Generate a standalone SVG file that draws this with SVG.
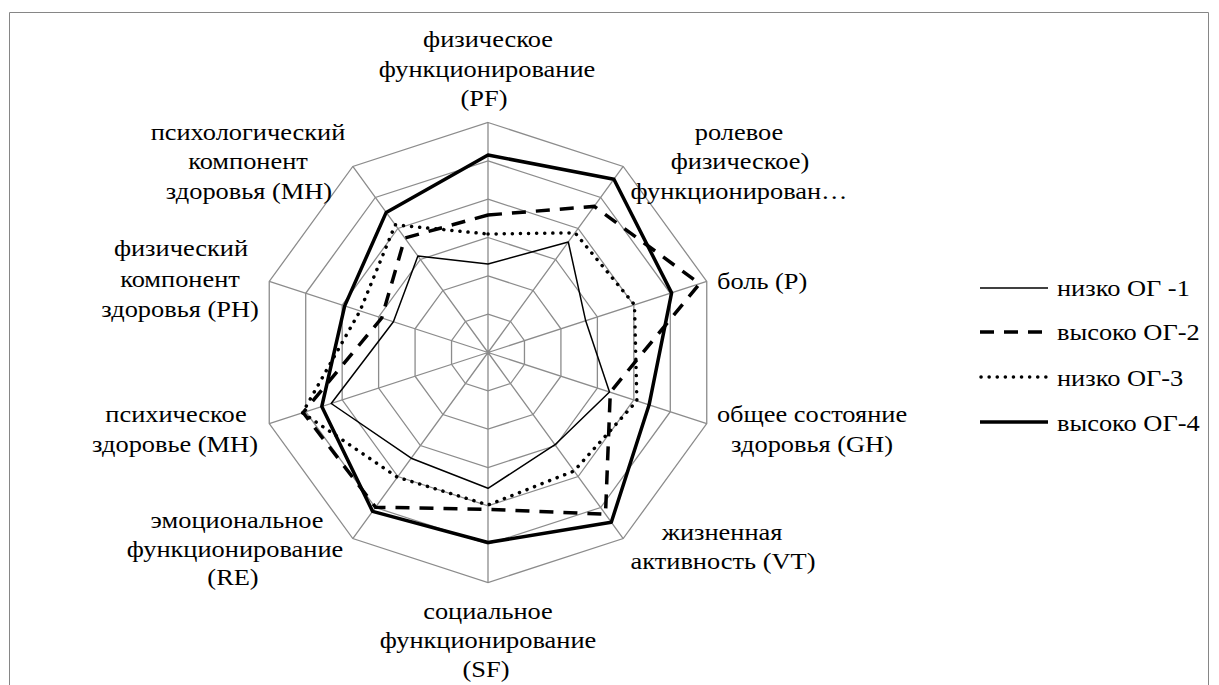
<svg xmlns="http://www.w3.org/2000/svg" width="1219" height="685" viewBox="0 0 1219 685">
<style>
text{font-family:'Liberation Serif','Times New Roman',serif;font-size:24px;fill:#000}
.mid{text-anchor:middle}
.grid{fill:none;stroke:#8c8c8c;stroke-width:1.3}
.s1{fill:none;stroke:#000;stroke-width:1.5;stroke-linejoin:round}
.s2{fill:none;stroke:#000;stroke-width:3.5;stroke-dasharray:14 10}
.s3{fill:none;stroke:#000;stroke-width:3.5;stroke-dasharray:0.1 8;stroke-linecap:round}
.s4{fill:none;stroke:#000;stroke-width:3.5;stroke-linejoin:round}
</style>
<rect width="1219" height="685" fill="#fff"/>
<path d="M9.5 685 V12.5 H1208.5 V685" fill="none" stroke="#868686" stroke-width="1"/>
<g id="grid">
<polygon class="grid" points="488,314.17 510.53,321.49 524.46,340.66 524.46,364.34 510.53,383.51 488,390.83 465.47,383.51 451.54,364.34 451.54,340.66 465.47,321.49"/>
<polygon class="grid" points="488,275.83 533.07,290.48 560.92,328.81 560.92,376.19 533.07,414.52 488,429.17 442.93,414.52 415.08,376.19 415.08,328.81 442.93,290.48"/>
<polygon class="grid" points="488,237.5 555.6,259.46 597.38,316.96 597.38,388.04 555.6,445.54 488,467.5 420.4,445.54 378.62,388.04 378.62,316.96 420.4,259.46"/>
<polygon class="grid" points="488,199.17 578.13,228.45 633.83,305.12 633.83,399.88 578.13,476.55 488,505.83 397.87,476.55 342.17,399.88 342.17,305.12 397.87,228.45"/>
<polygon class="grid" points="488,160.83 600.66,197.44 670.29,293.27 670.29,411.73 600.66,507.56 488,544.17 375.34,507.56 305.71,411.73 305.71,293.27 375.34,197.44"/>
<polygon class="grid" points="488,122.5 623.19,166.43 706.75,281.43 706.75,423.57 623.19,538.57 488,582.5 352.81,538.57 269.25,423.57 269.25,281.43 352.81,166.43"/>
<path class="grid" d="M488 352.5 L488 122.5 M488 352.5 L623.19 166.43 M488 352.5 L706.75 281.43 M488 352.5 L706.75 423.57 M488 352.5 L623.19 538.57 M488 352.5 L488 582.5 M488 352.5 L352.81 538.57 M488 352.5 L269.25 423.57 M488 352.5 L269.25 281.43 M488 352.5 L352.81 166.43"/>
</g>
<g id="series">
<polygon id="s1" class="s1" points="488,264 568.3,242 585.7,320.8 609.5,392 555,444.7 488,488.3 411.2,458.2 331.2,403.5 393.4,321.8 417.9,256.1"/>
<polygon id="s2" class="s2" points="488,215 594.2,206.4 699.6,283.7 610.3,392.2 605.5,514.2 488,509.3 375.6,507.2 303.1,412.6 381.7,318 404.8,238"/>
<polygon id="s3" class="s3" points="488,234 575,232.8 634.5,304.9 636.9,400.9 574.1,471 488,505 397.4,477.2 302.5,412.8 360,310.9 395.2,224.8"/>
<polygon id="s4" class="s4" points="488,155 613.9,179.2 671.6,292.9 649.1,404.8 611.3,522.2 488,542.5 372.6,511.4 321.8,406.5 344.7,305.9 386.2,212.4"/>
</g>
<g id="axis-labels">
<g id="lbl-pf"><text class="mid" transform="translate(488 47) scale(1.1 1)">физическое</text><text class="mid" transform="translate(487 77) scale(1.1 1)">функционирование</text><text class="mid" transform="translate(484 106) scale(1.1 1)">(PF)</text></g>
<g id="lbl-rp"><text class="mid" transform="translate(739 140) scale(1.1 1)">ролевое</text><text class="mid" transform="translate(740 169) scale(1.1 1)">физическое)</text><text class="mid" transform="translate(739 198.5) scale(1.1 1)">функционирован…</text></g>
<g id="lbl-p"><text transform="translate(717 289) scale(1.1 1)">боль (P)</text></g>
<g id="lbl-gh"><text class="mid" transform="translate(812 422) scale(1.1 1)">общее состояние</text><text class="mid" transform="translate(812 452) scale(1.1 1)">здоровья (GH)</text></g>
<g id="lbl-vt"><text class="mid" transform="translate(722 540) scale(1.1 1)">жизненная</text><text class="mid" transform="translate(723 569) scale(1.1 1)">активность (VT)</text></g>
<g id="lbl-sf"><text class="mid" transform="translate(488 619) scale(1.1 1)">социальное</text><text class="mid" transform="translate(488 648) scale(1.1 1)">функционирование</text><text class="mid" transform="translate(486 677) scale(1.1 1)">(SF)</text></g>
<g id="lbl-re"><text class="mid" transform="translate(237 528) scale(1.1 1)">эмоциональное</text><text class="mid" transform="translate(235 557) scale(1.1 1)">функционирование</text><text class="mid" transform="translate(233 585) scale(1.1 1)">(RE)</text></g>
<g id="lbl-mh"><text class="mid" transform="translate(176 422) scale(1.1 1)">психическое</text><text class="mid" transform="translate(175 452) scale(1.1 1)">здоровье (MH)</text></g>
<g id="lbl-ph"><text class="mid" transform="translate(181 256) scale(1.1 1)">физический</text><text class="mid" transform="translate(180 287) scale(1.1 1)">компонент</text><text class="mid" transform="translate(180 317) scale(1.1 1)">здоровья (PH)</text></g>
<g id="lbl-mhc"><text class="mid" transform="translate(248 139.5) scale(1.1 1)">психологический</text><text class="mid" transform="translate(248 169) scale(1.1 1)">компонент</text><text class="mid" transform="translate(249 198.5) scale(1.1 1)">здоровья (MH)</text></g>
</g>
<g id="legend">
<g id="leg1"><line class="s1" x1="980" y1="288" x2="1048" y2="288"/><text transform="translate(1057 296) scale(1.1 1)">низко ОГ -1</text></g>
<g id="leg2"><line class="s2" x1="980" y1="332" x2="1048" y2="332"/><text transform="translate(1057 340) scale(1.1 1)">высоко ОГ-2</text></g>
<g id="leg3"><line class="s3" x1="981" y1="377" x2="1048" y2="377"/><text transform="translate(1057 386) scale(1.1 1)">низко ОГ-3</text></g>
<g id="leg4"><line class="s4" x1="980" y1="422" x2="1048" y2="422"/><text transform="translate(1057 431) scale(1.1 1)">высоко ОГ-4</text></g>
</g>
</svg>
